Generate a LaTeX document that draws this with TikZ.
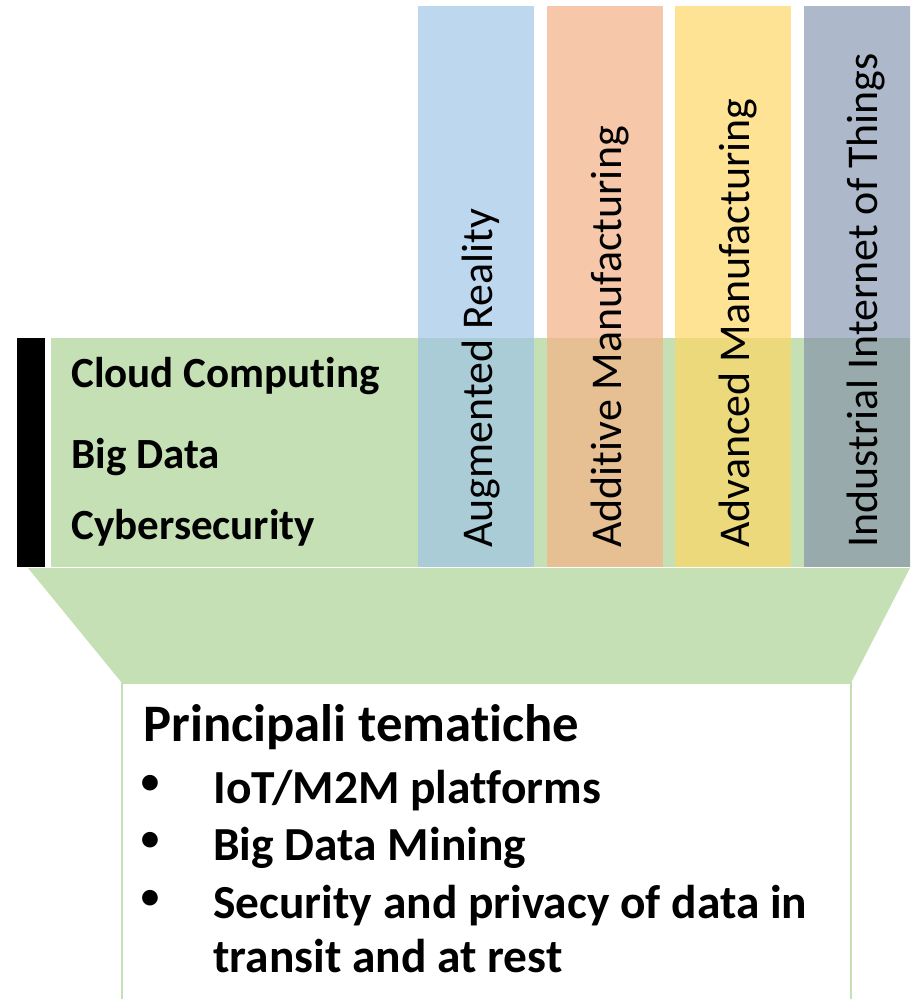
\documentclass[tikz,border=0pt]{standalone}
\usepackage{fontspec}
\setmainfont{Carlito}[Ligatures=NoCommon]
\definecolor{bandgreen}{HTML}{C5E0B4}
\definecolor{colblue}{HTML}{BDD7EE}
\definecolor{colorange}{HTML}{F6C8A9}
\definecolor{colyellow}{HTML}{FFE394}
\definecolor{colgrey}{HTML}{ADB9CA}
\definecolor{mixblue}{HTML}{AACCD6}
\definecolor{mixorange}{HTML}{E6BF92}
\definecolor{mixyellow}{HTML}{EBD97B}
\definecolor{mixgrey}{HTML}{99AAAD}
\tikzset{
  sidelabel/.style={anchor=base west, inner sep=0pt, font=\fontsize{24.5}{28}\selectfont\bfseries},
  collabel/.style={anchor=base west, inner sep=0pt, rotate=90, font=\fontsize{25}{30}\selectfont},
  topiclabel/.style={anchor=base west, inner sep=0pt, font=\fontsize{27}{30.6}\selectfont\bfseries},
  dotlabel/.style={anchor=center, inner sep=0pt, font=\fontsize{21}{24}\selectfont\bfseries},
  boxline/.style={draw=bandgreen, line width=1.2pt}
}
\begin{document}
\begin{tikzpicture}[x=0.02cm, y=-0.02cm]
\useasboundingbox (0,0) rectangle (910,999);
\clip (0,0) rectangle (910,999);
% green band and black bar
\fill[bandgreen] (51,338) rectangle (910,567);
\fill[black] (17,338) rectangle (45,567);
% coloured columns, darker where they cross the band
\foreach \x/\c/\m in {418/colblue/mixblue, 547/colorange/mixorange, 675/colyellow/mixyellow, 804/colgrey/mixgrey}{
  \fill[\c] (\x,6) rectangle (\x+116,338);
  \fill[\m] (\x,338) rectangle (\x+116,567);
}
% funnel and box
\fill[bandgreen] (28,568) -- (910,568) -- (851,683) -- (122,683) -- cycle;
\fill[white] (122,683) rectangle (851,1010);
\draw[boxline] (122,1010) -- (122,683) -- (851,683) -- (851,1010);
% labels
\node[sidelabel] (cloud) at (71,388) {Cloud Computing};
\node[sidelabel] (bigdata) at (71,468) {Big Data};
\node[sidelabel] (cyber) at (71,539) {Cybersecurity};
\node[collabel] (ar) at (492,548) {Augmented Reality};
\node[collabel] (am) at (621,548) {Additive Manufacturing};
\node[collabel] (adv) at (749,548) {Advanced Manufacturing};
\node[collabel] (iiot) at (877,548) {Industrial Internet of Things};
\node[anchor=base west, inner sep=0pt, font=\fontsize{30}{34}\selectfont\bfseries] (title) at (143,741) {Principali tematiche};
\foreach \y/\n in {784/dot1, 841/dot2, 899/dot3}{
  \node[dotlabel] (\n) at (150,\y) {•};
}
\node[topiclabel] (iot) at (213,803) {IoT/M2M platforms};
\node[topiclabel] (mining) at (213,860) {Big Data Mining};
\node[topiclabel] (security) at (213,918) {Security and privacy of data in};
\node[topiclabel] (security2) at (213,972) {transit and at rest};
\end{tikzpicture}
\end{document}
